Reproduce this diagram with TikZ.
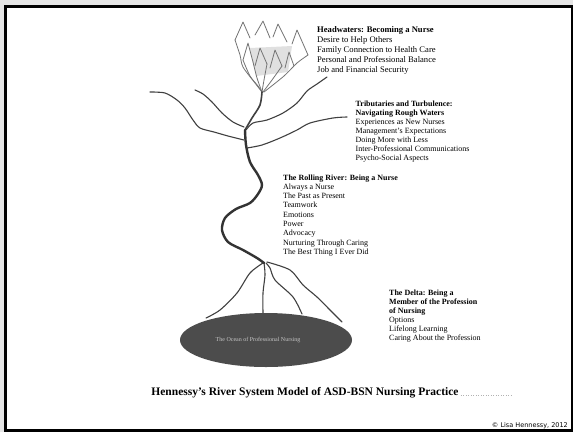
\documentclass[tikz,border=0pt]{standalone}
\usepackage{fontspec}
\setmainfont{Liberation Serif}
\newfontfamily\copyfont{DejaVu Sans}
\begin{document}
\begin{tikzpicture}[x=1pt,y=-1pt,
  river/.style={draw=black!75,line width=1.1pt,line cap=round,line join=round},
  trunk/.style={draw=black!80,line width=2.4pt,line cap=round,line join=round},
  spring/.style={draw=black!55,line width=0.8pt,line cap=round,line join=round},
  block/.style={anchor=north west,inner sep=0pt,align=left},
  txt/.style 2 args={font=\fontsize{#1}{#2}\selectfont},
]
% page and frame
\path[fill=black!10] (0,0) rectangle (573,432);
\useasboundingbox (0,0) rectangle (573,432);
\draw[line width=3pt,fill=white] (5.5,6.5) rectangle (572,430.5);

% headwaters: springs
\fill[black!12] (250,48) -- (292,46) -- (288,72) -- (256,76) -- cycle;
\draw[spring] (235,40) -- (243,22) -- (250,38);
\draw[spring] (255,35) -- (263,21) -- (270,38);
\draw[spring] (273,37) -- (278,24) -- (287,42);
\draw[spring] (292,44) -- (297,30) -- (308,55);
\draw[spring] (243,60) -- (248,43) -- (253,62);
\draw[spring] (255,66) -- (260,48) -- (267,64);
\draw[spring] (270,68) -- (275,50) -- (282,66);
\draw[spring] (285,68) -- (289,52) -- (294,66);
\draw[spring] plot[smooth] coordinates {(243,60) (250,76) (258,86) (262,92)};
\draw[spring] plot[smooth] coordinates {(253,62) (257,78) (262,92)};
\draw[spring] plot[smooth] coordinates {(267,64) (264,80) (262,92)};
\draw[spring] plot[smooth] coordinates {(282,66) (272,80) (263,92)};
\draw[spring] plot[smooth] coordinates {(308,55) (297,63) (284,76) (264,92)};
\draw[spring] plot[smooth] coordinates {(235,40) (240,55) (243,67) (255,83) (262,92)};

% main stream
\draw[river,line width=1.6pt] plot[smooth] coordinates {(262,92) (260,105) (252,118) (245,130)};
\draw[trunk] plot[smooth] coordinates {(245,130) (246,145) (250,162) (258,175) (262,185) (258,194) (250,203) (236,209) (225,218) (222,230) (228,242) (243,250) (257,258) (264,263)};

% tributaries
\draw[river] plot[smooth] coordinates {(246,130) (253,123) (267,120) (283,113) (297,103) (307,91) (317,84) (327,77)};
\draw[river] plot[smooth] coordinates {(247,148) (262,145) (280,138) (297,130) (310,123) (333,118) (347,117)};
\draw[river] plot[smooth] coordinates {(244,140) (228,136) (214,132) (200,128) (193,120) (185,108) (177,100) (165,93) (150,92)};
\draw[river] plot[smooth] coordinates {(244,127) (233,122) (222,113) (212,102) (203,94) (195,90)};

% delta
\draw[river] plot[smooth] coordinates {(263,263) (250,273) (237,293) (220,310) (206,318)};
\draw[river] plot[smooth] coordinates {(264,263) (265,275) (263,293) (263,313)};
\draw[river] plot[smooth] coordinates {(266,263) (270,268) (275,280) (293,297) (302,314)};
\draw[river] plot[smooth] coordinates {(267,262) (290,270) (303,285) (317,297) (330,310) (342,322)};

% ocean
\fill[black!70] (266,340) ellipse [x radius=86,y radius=27];
\node[font=\fontsize{6}{7}\selectfont,text=black!22] (ocean) at (258,340) {The Ocean of Professional Nursing};

% labels
\node[block,txt={8.6}{10}] (head) at (317,26) {\textbf{Headwaters: Becoming a Nurse}\\Desire to Help Others\\Family Connection to Health Care\\Personal and Professional Balance\\Job and Financial Security};
\node[block,txt={8}{9.1}] (trib) at (355.5,100.3) {\textbf{Tributaries and Turbulence:}\\\textbf{Navigating Rough Waters}\\Experiences as New Nurses\\Management's Expectations\\Doing More with Less\\Inter-Professional Communications\\Psycho-Social Aspects};
\node[block,txt={8}{9.3}] (roll) at (283,174.3) {\textbf{The Rolling River: Being a Nurse}\\Always a Nurse\\The Past as Present\\Teamwork\\Emotions\\Power\\Advocacy\\Nurturing Through Caring\\The Best Thing I Ever Did};
\node[block,txt={8}{9}] (delta) at (389,289.3) {\textbf{The Delta: Being a}\\\textbf{Member of the Profession}\\\textbf{of Nursing}\\Options\\Lifelong Learning\\Caring About the Profession};

% title and credit
\node[anchor=base,inner sep=0pt,font=\fontsize{11.5}{13}\selectfont\bfseries] (title) at (305,395.5) {Hennessy's River System Model of ASD-BSN Nursing Practice};
\draw[black!30,dotted,line width=0.5pt] (title.base east) ++(2,0) -- (513,395.5);
\node[anchor=base east,inner sep=0pt,font=\copyfont\fontsize{6.5}{8}\selectfont] (credit) at (568,427) {© Lisa Hennessy, 2012};
\end{tikzpicture}
\end{document}
